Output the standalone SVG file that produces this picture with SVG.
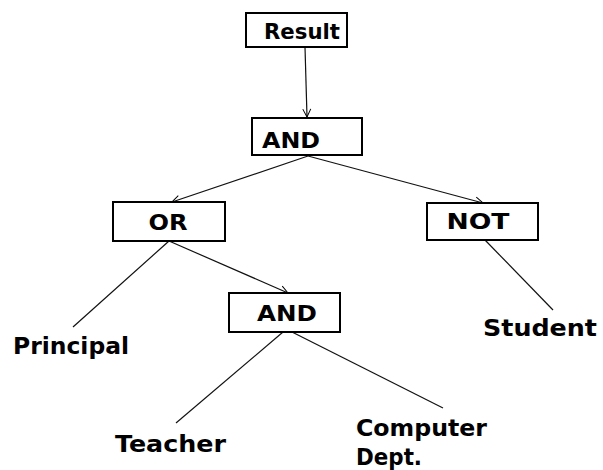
<svg xmlns="http://www.w3.org/2000/svg" width="603" height="470" viewBox="0 0 603 470">
<defs>
<marker id="arr" markerWidth="10" markerHeight="10" refX="9" refY="5" orient="auto" markerUnits="userSpaceOnUse">
<path d="M1,1 L9,5 L1,9" fill="none" stroke="#000" stroke-width="1"/>
</marker>
<style>
.box{fill:#fff;stroke:#000;stroke-width:2}
.bl{font-family:"DejaVu Sans","Liberation Sans",sans-serif;font-weight:bold;font-size:21px;fill:#000}
.lf{font-family:"DejaVu Sans","Liberation Sans",sans-serif;font-weight:bold;font-size:23px;fill:#000}
.c{stroke:#111;stroke-width:1.2;fill:none}
</style>
</defs>
<rect width="603" height="470" fill="#fff"/>
<g id="connectors">
<line class="c" x1="305" y1="47" x2="307" y2="117" marker-end="url(#arr)"/>
<line class="c" x1="308" y1="156" x2="172" y2="202" marker-end="url(#arr)"/>
<line class="c" x1="308" y1="156" x2="483" y2="203" marker-end="url(#arr)"/>
<line class="c" x1="169" y1="241" x2="73" y2="327"/>
<line class="c" x1="169" y1="241" x2="288" y2="293" marker-end="url(#arr)"/>
<line class="c" x1="485" y1="240" x2="553" y2="310"/>
<line class="c" x1="283" y1="332" x2="176" y2="423"/>
<line class="c" x1="292" y1="332" x2="443" y2="408"/>
</g>
<g id="result">
<rect class="box" x="246" y="13" width="101" height="34"/>
<text class="bl" x="302" y="39" text-anchor="middle" textLength="76" lengthAdjust="spacingAndGlyphs">Result</text>
</g>
<g id="and1">
<rect class="box" x="252" y="118" width="110" height="37"/>
<text class="bl" x="291" y="148" text-anchor="middle" textLength="58" lengthAdjust="spacingAndGlyphs">AND</text>
</g>
<g id="or">
<rect class="box" x="113" y="202" width="112" height="39"/>
<text class="bl" x="168" y="230" text-anchor="middle" textLength="39" lengthAdjust="spacingAndGlyphs">OR</text>
</g>
<g id="not">
<rect class="box" x="427" y="203" width="111" height="37"/>
<text class="bl" x="478" y="229" text-anchor="middle" textLength="63" lengthAdjust="spacingAndGlyphs">NOT</text>
</g>
<g id="and2">
<rect class="box" x="229" y="293" width="111" height="39"/>
<text class="bl" x="287" y="321" text-anchor="middle" textLength="60" lengthAdjust="spacingAndGlyphs">AND</text>
</g>
<g id="principal">
<text class="lf" x="13" y="354" textLength="116" lengthAdjust="spacingAndGlyphs">Principal</text>
</g>
<g id="student">
<text class="lf" x="483" y="336" textLength="114" lengthAdjust="spacingAndGlyphs">Student</text>
</g>
<g id="teacher">
<text class="lf" x="115" y="452" textLength="111" lengthAdjust="spacingAndGlyphs">Teacher</text>
</g>
<g id="computer">
<text class="lf" x="356" y="436" textLength="131" lengthAdjust="spacingAndGlyphs">Computer</text>
<text class="lf" x="356" y="465" textLength="66" lengthAdjust="spacingAndGlyphs">Dept.</text>
</g>
</svg>
